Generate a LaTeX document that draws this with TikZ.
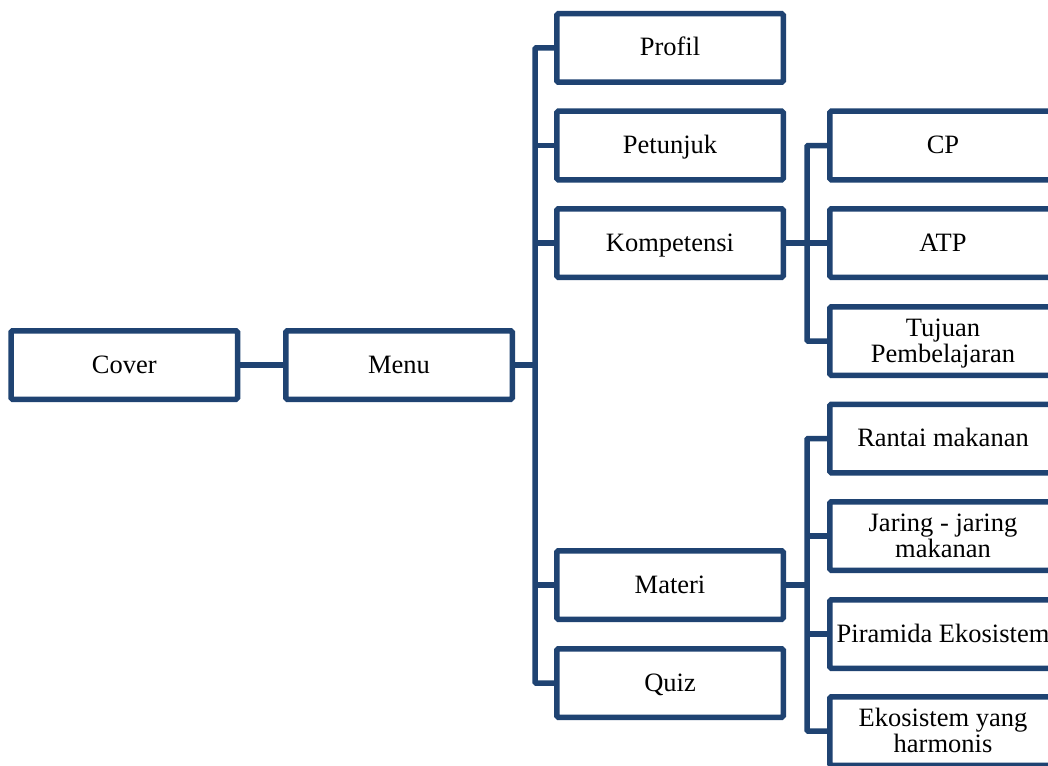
\documentclass[tikz,border=0pt]{standalone}
\usepackage{fontspec}
\setmainfont{Liberation Serif}
\definecolor{navy}{RGB}{31,67,114}
\begin{document}
\begin{tikzpicture}[x=1pt,y=-1pt,
  box/.style={draw=navy, line width=5.5pt, rounded corners=1.5pt, fill=white,
    minimum width=226.5pt, minimum height=68.5pt, inner sep=0pt, align=center,
    text height=19pt, text depth=3pt,
    font=\fontsize{26.5}{26}\selectfont},
  twoline/.style={text height=45pt, text depth=3pt},
  conn/.style={draw=navy, line width=5.5pt, rounded corners=1pt}]
\useasboundingbox (0,0) rectangle (1048,765);
\node[box] (cover) at (124.25,365) {Cover};
\node[box] (menu) at (399,365) {Menu};
\node[box] (profil) at (670,48) {Profil};
\node[box] (petunjuk) at (670,145.5) {Petunjuk};
\node[box] (kompetensi) at (670,243) {Kompetensi};
\node[box] (materi) at (670,585) {Materi};
\node[box] (quiz) at (670,683) {Quiz};
\node[box] (cp) at (943,145.5) {CP};
\node[box] (atp) at (943,243) {ATP};
\node[box, twoline] (tujuan) at (943,341) {Tujuan\\Pembelajaran};
\node[box] (rantai) at (943,438.5) {Rantai makanan};
\node[box, twoline] (jaring) at (943,536) {Jaring - jaring\\makanan};
\node[box] (piramida) at (943,634) {Piramida Ekosistem};
\node[box, twoline] (ekosistem) at (943,731) {Ekosistem yang\\harmonis};
\coordinate (b1) at (535,0);
\coordinate (b2) at (807,0);
\draw[conn] (cover.east) -- (menu.west);
\draw[conn] (menu.east) -- (menu.east -| b1);
\draw[conn] (profil.west) -- (profil.west -| b1) -- (quiz.west -| b1) -- (quiz.west);
\draw[conn] (petunjuk.west) -- (petunjuk.west -| b1);
\draw[conn] (kompetensi.west) -- (kompetensi.west -| b1);
\draw[conn] (materi.west) -- (materi.west -| b1);
\draw[conn] (kompetensi.east) -- (kompetensi.east -| b2);
\draw[conn] (cp.west) -- (cp.west -| b2) -- (tujuan.west -| b2) -- (tujuan.west);
\draw[conn] (atp.west) -- (atp.west -| b2);
\draw[conn] (materi.east) -- (materi.east -| b2);
\draw[conn] (rantai.west) -- (rantai.west -| b2) -- (ekosistem.west -| b2) -- (ekosistem.west);
\draw[conn] (jaring.west) -- (jaring.west -| b2);
\draw[conn] (piramida.west) -- (piramida.west -| b2);
\end{tikzpicture}
\end{document}
